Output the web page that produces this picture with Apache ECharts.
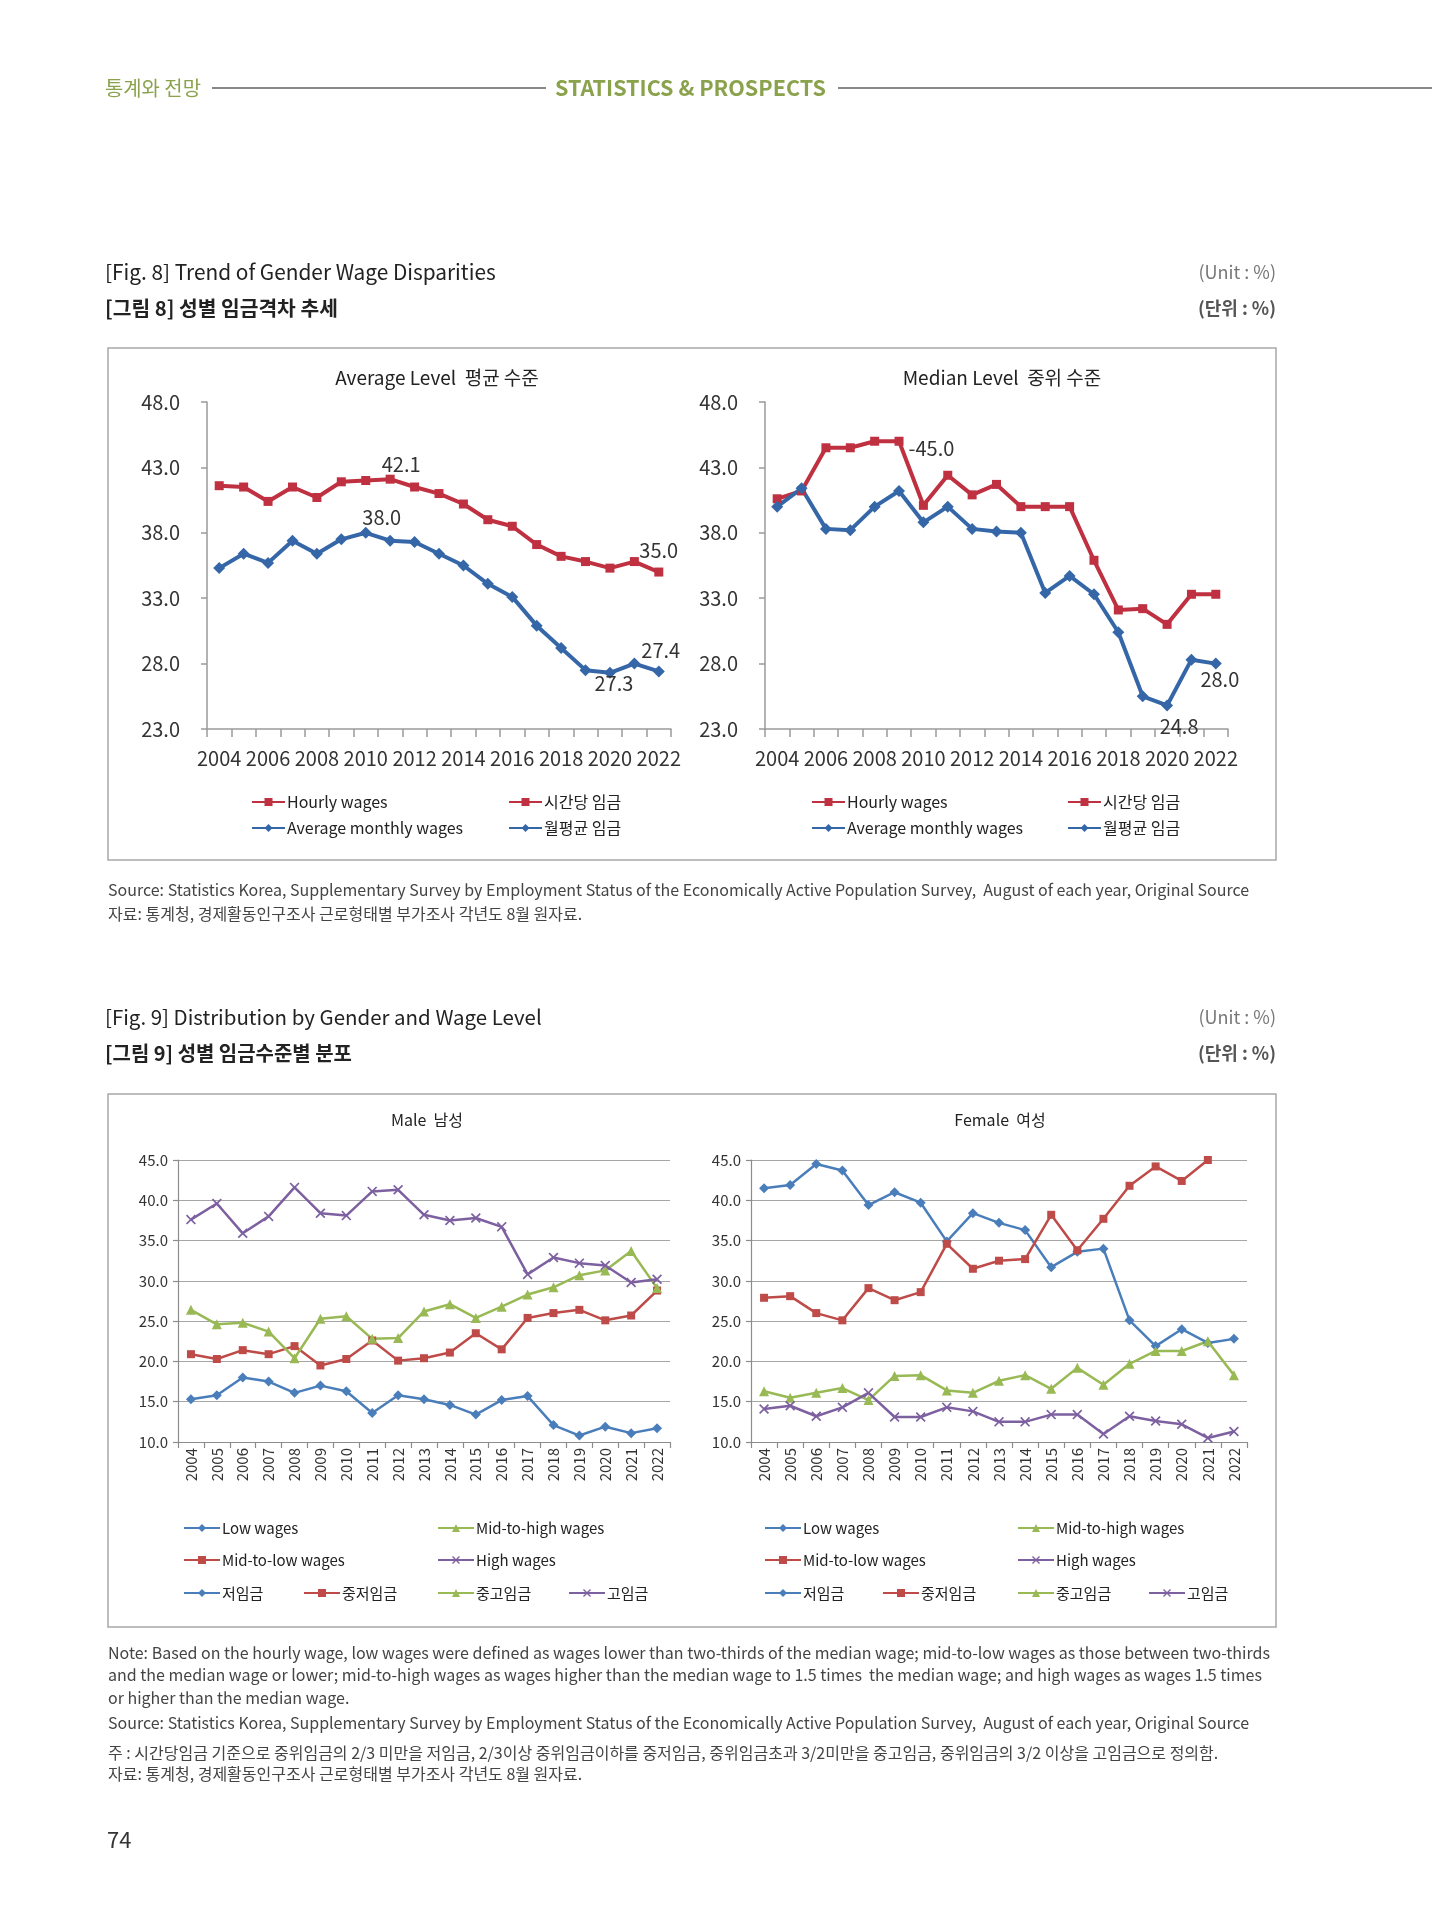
<!DOCTYPE html>
<html><head><meta charset="utf-8">
<script src="https://cdn.jsdelivr.net/npm/echarts@6/dist/echarts.min.js"></script>
<style>html,body{margin:0;padding:0;background:#fff}#c{width:1432px;height:1920px}</style>
</head><body><div id="c"></div>
<script>
// ---------- DATA ----------
const years = ['2004','2005','2006','2007','2008','2009','2010','2011','2012','2013','2014','2015','2016','2017','2018','2019','2020','2021','2022'];
const fig8YTicks = [23, 48, 5];
const fig9YTicks = [10, 45, 5];

// Fig 8 - Average level
const avgHourly  = [41.6,41.5,40.4,41.5,40.7,41.9,42.0,42.1,41.5,41.0,40.2,39.0,38.5,37.1,36.2,35.8,35.3,35.8,35.0];
const avgMonthly = [35.3,36.4,35.7,37.4,36.4,37.5,38.0,37.4,37.3,36.4,35.5,34.1,33.1,30.9,29.2,27.5,27.3,28.0,27.4];
// Fig 8 - Median level
const medHourly  = [40.6,41.2,44.5,44.5,45.0,45.0,40.1,42.4,40.9,41.7,40.0,40.0,40.0,35.9,32.1,32.2,31.0,33.3,33.3];
const medMonthly = [40.0,41.4,38.3,38.2,40.0,41.2,38.8,40.0,38.3,38.1,38.0,33.4,34.7,33.3,30.4,25.5,24.8,28.3,28.0];

// Fig 9 - Male
const maleLow     = [15.3,15.8,18.0,17.5,16.1,17.0,16.3,13.6,15.8,15.3,14.6,13.4,15.2,15.7,12.1,10.8,11.9,11.1,11.7];
const maleMidLow  = [20.9,20.3,21.4,20.9,21.9,19.5,20.3,22.6,20.1,20.4,21.1,23.5,21.5,25.4,26.0,26.4,25.1,25.7,28.8];
const maleMidHigh = [26.4,24.6,24.8,23.7,20.4,25.3,25.6,22.8,22.9,26.2,27.1,25.4,26.8,28.3,29.2,30.7,31.3,33.7,29.1];
const maleHigh    = [37.6,39.6,35.9,38.0,41.6,38.4,38.1,41.1,41.3,38.2,37.5,37.8,36.7,30.8,32.9,32.2,31.9,29.8,30.2];
// Fig 9 - Female
const femaleLow     = [41.5,41.9,44.5,43.7,39.4,41.0,39.7,34.9,38.4,37.2,36.3,31.7,33.6,34.0,25.1,21.9,24.0,22.3,22.8];
const femaleMidLow  = [27.9,28.1,26.0,25.1,29.1,27.6,28.6,34.6,31.5,32.5,32.7,38.2,33.8,37.7,41.8,44.2,42.4,45.0,47.5];
const femaleMidHigh = [16.3,15.5,16.1,16.7,15.2,18.2,18.3,16.4,16.1,17.6,18.3,16.6,19.2,17.1,19.7,21.3,21.3,22.5,18.3];
const femaleHigh    = [14.1,14.5,13.2,14.3,16.1,13.1,13.1,14.3,13.8,12.5,12.5,13.4,13.4,11.0,13.2,12.6,12.2,10.5,11.3];

// Names
const fig8Names = ['Hourly wages','Average monthly wages','시간당 임금','월평균 임금'];
const fig9Names = ['Low wages','Mid-to-low wages','Mid-to-high wages','High wages','저임금','중저임금','중고임금','고임금'];

// Texts
const noteLines = [
 'Note: Based on the hourly wage, low wages were defined as wages lower than two-thirds of the median wage; mid-to-low wages as those between two-thirds',
 'and the median wage or lower; mid-to-high wages as wages higher than the median wage to 1.5 times  the median wage; and high wages as wages 1.5 times',
 'or higher than the median wage.',
 'Source: Statistics Korea, Supplementary Survey by Employment Status of the Economically Active Population Survey,  August of each year, Original Source',
 '주 : 시간당임금 기준으로 중위임금의 2/3 미만을 저임금, 2/3이상 중위임금이하를 중저임금, 중위임금초과 3/2미만을 중고임금, 중위임금의 3/2 이상을 고임금으로 정의함.',
 '자료: 통계청, 경제활동인구조사 근로형태별 부가조사 각년도 8월 원자료.'
];
const src8Lines = [
 'Source: Statistics Korea, Supplementary Survey by Employment Status of the Economically Active Population Survey,  August of each year, Original Source',
 '자료: 통계청, 경제활동인구조사 근로형태별 부가조사 각년도 8월 원자료.'
];
const headerKo = '통계와 전망', headerEn = 'STATISTICS & PROSPECTS';
const fig8Title = '[Fig. 8] Trend of Gender Wage Disparities', fig8TitleKo = '[그림 8] 성별 임금격차 추세';
const fig9Title = '[Fig. 9] Distribution by Gender and Wage Level', fig9TitleKo = '[그림 9] 성별 임금수준별 분포';

// ---------- STYLE ----------
const FF = '"Noto Sans CJK KR","Noto Sans",sans-serif';
const RED8 = '#BF3040', BLUE8 = '#3567A8';
const C9 = {low:'#4A7EBB', midlow:'#BE4B48', midhigh:'#98B954', high:'#7D60A0'};
const XSYM = 'path://M0,1.2 L1.2,0 L5,3.8 L8.8,0 L10,1.2 L6.2,5 L10,8.8 L8.8,10 L5,6.2 L1.2,10 L0,8.8 L3.8,5 Z';

function fit(text, weight, target, max){
  const c = document.createElement('canvas').getContext('2d');
  c.font = weight + ' 100px ' + FF;
  return Math.min(max, 100 * target / c.measureText(text).width);
}
const noteSize = fit(noteLines[0], 'normal', 1168, 16);

const chart = echarts.init(document.getElementById('c'), null, {renderer:'canvas'});

const grids = [
  {left:207, top:402, width:464, height:327},
  {left:765, top:402, width:463, height:327},
  {left:178, top:1160, width:492, height:282},
  {left:751, top:1160, width:496, height:282}
];

function x8(gi){return {type:'category', gridIndex:gi, data:years, boundaryGap:true,
  axisLine:{lineStyle:{color:'#9a9a9a', width:1.5}},
  axisTick:{show:true, interval:0, length:8, lineStyle:{color:'#9a9a9a', width:1.5}},
  axisLabel:{interval:1, fontSize:20, color:'#333', margin:19, fontFamily:FF}};}
function y8(gi){return {type:'value', gridIndex:gi, min:fig8YTicks[0], max:fig8YTicks[1], interval:fig8YTicks[2],
  axisLine:{show:true, lineStyle:{color:'#9a9a9a', width:1.5}},
  axisTick:{show:true, length:6, lineStyle:{color:'#9a9a9a', width:1.5}},
  splitLine:{show:false},
  axisLabel:{formatter:v=>v.toFixed(1), fontSize:20, color:'#333', margin:27, fontFamily:FF}};}
function x9(gi){return {type:'category', gridIndex:gi, data:years, boundaryGap:true,
  axisLine:{lineStyle:{color:'#8c8c8c', width:1.2}},
  axisTick:{show:true, interval:0, length:6, lineStyle:{color:'#8c8c8c', width:1.2}},
  axisLabel:{interval:0, rotate:90, fontSize:15, color:'#333', margin:6, fontFamily:FF}};}
function y9(gi){return {type:'value', gridIndex:gi, min:fig9YTicks[0], max:fig9YTicks[1], interval:fig9YTicks[2],
  axisLine:{show:true, lineStyle:{color:'#8c8c8c', width:1.2}},
  axisTick:{show:true, length:5, lineStyle:{color:'#8c8c8c', width:1.2}},
  splitLine:{show:true, lineStyle:{color:'#a6a6a6', width:1.2}},
  axisLabel:{formatter:v=>v.toFixed(1), fontSize:15, color:'#333', margin:10, fontFamily:FF}};}

function withLabels(data, spec){
  return data.map((v,i)=>{
    if(!spec || !spec[i]) return v;
    const s = spec[i];
    return {value:v, label:{show:true, position:s.pos, offset:s.off||[0,0],
      formatter:p=>(s.prefix||'')+Number(p.value).toFixed(1),
      fontSize:20, color:'#333', fontFamily:FF}};
  });
}
function line(name, data, gi, color, symbol, size, width, spec){
  return {type:'line', name, xAxisIndex:gi, yAxisIndex:gi, data:withLabels(data, spec),
    symbol, symbolSize:size, showSymbol:true, animation:false,
    lineStyle:{color, width}, itemStyle:{color, borderColor:color, borderWidth:0}, z:3};
}

const series = [
  line('Hourly wages', avgHourly, 0, RED8, 'rect', 9, 4, {7:{pos:'top',off:[11,5]}, 18:{pos:'top',off:[0,-2]}}),
  line('Average monthly wages', avgMonthly, 0, BLUE8, 'diamond', 12, 4, {6:{pos:'top',off:[16,6]}, 16:{pos:'bottom',off:[4,-10]}, 18:{pos:'top',off:[2,0]}}),
  line('시간당 임금', [], 0, RED8, 'rect', 9, 4),
  line('월평균 임금', [], 0, BLUE8, 'diamond', 12, 4),
  line('Hourly wages', medHourly, 1, RED8, 'rect', 9, 4, {5:{pos:'right',off:[0,7],prefix:'-'}}),
  line('Average monthly wages', medMonthly, 1, BLUE8, 'diamond', 12, 4, {16:{pos:'bottom',off:[12,0]}, 18:{pos:'bottom',off:[4,-5]}}),
  line('Low wages', maleLow, 2, C9.low, 'diamond', 10, 2.5),
  line('Mid-to-low wages', maleMidLow, 2, C9.midlow, 'rect', 8, 2.5),
  line('Mid-to-high wages', maleMidHigh, 2, C9.midhigh, 'triangle', 10, 2.5),
  line('High wages', maleHigh, 2, C9.high, XSYM, 10, 2.5),
  line('저임금', [], 2, C9.low, 'diamond', 10, 2.5),
  line('중저임금', [], 2, C9.midlow, 'rect', 8, 2.5),
  line('중고임금', [], 2, C9.midhigh, 'triangle', 10, 2.5),
  line('고임금', [], 2, C9.high, XSYM, 10, 2.5),
  line('Low wages', femaleLow, 3, C9.low, 'diamond', 10, 2.5),
  line('Mid-to-low wages', femaleMidLow, 3, C9.midlow, 'rect', 8, 2.5),
  line('Mid-to-high wages', femaleMidHigh, 3, C9.midhigh, 'triangle', 10, 2.5),
  line('High wages', femaleHigh, 3, C9.high, XSYM, 10, 2.5)
];

// Legend layout: [name, iconLeft, rowCenterY, fontSize, iconWidth]
const legendLayout = [
  [fig8Names[0],251,802,16,33],[fig8Names[1],251,828,16,33],[fig8Names[2],508,802,16,33],[fig8Names[3],508,828,16,33],
  [fig8Names[0],811,802,16,33],[fig8Names[1],811,828,16,33],[fig8Names[2],1067,802,16,33],[fig8Names[3],1067,828,16,33],
  [fig9Names[0],183,1528,15,36],[fig9Names[1],183,1560,15,36],[fig9Names[2],437,1528,15,36],[fig9Names[3],437,1560,15,36],
  [fig9Names[4],183,1593,15,36],[fig9Names[5],303,1593,15,36],[fig9Names[6],437,1593,15,36],[fig9Names[7],568,1593,15,36],
  [fig9Names[0],764,1528,15,36],[fig9Names[1],764,1560,15,36],[fig9Names[2],1017,1528,15,36],[fig9Names[3],1017,1560,15,36],
  [fig9Names[4],764,1593,15,36],[fig9Names[5],882,1593,15,36],[fig9Names[6],1017,1593,15,36],[fig9Names[7],1148,1593,15,36]
];
const legends = legendLayout.map(([n,x,y,fs,iw])=>({
  data:[n], left:x, top:y-9, padding:0, itemGap:0, itemWidth:iw, itemHeight:10, selectedMode:false,
  textStyle:{fontSize:fs, color:'#222', fontFamily:FF, lineHeight:18, padding:[0,0,0,-3]}
}));

function txt(x,y,text,opt){
  opt = opt||{};
  return {type:'text', x, y, silent:true, style:{text, fill:opt.color||'#222', align:opt.align||'left', verticalAlign:'middle',
    font:(opt.weight||'normal')+' '+(opt.size||16)+'px '+FF}};
}
const GREEN = '#8BA24C';
const graphics = [
  txt(105,88,headerKo,{color:GREEN,size:fit(headerKo,'normal',96,20)}),
  {type:'line', shape:{x1:212,y1:88,x2:546,y2:88}, style:{stroke:'#888',lineWidth:2}},
  txt(555,88,headerEn,{color:GREEN,size:fit(headerEn,'bold',271,22),weight:'bold'}),
  {type:'line', shape:{x1:838,y1:88,x2:1432,y2:88}, style:{stroke:'#888',lineWidth:2}},

  txt(105,272,fig8Title,{size:fit(fig8Title,'normal',391,21)}),
  txt(105,308,fig8TitleKo,{size:fit(fig8TitleKo,'bold',233,21),weight:'bold'}),
  txt(1276,272,'(Unit : %)',{size:18,color:'#777',align:'right'}),
  txt(1276,308,'(단위 : %)',{size:18,color:'#555',weight:'bold',align:'right'}),
  {type:'rect', shape:{x:108,y:348,width:1168,height:512}, style:{fill:'none',stroke:'#a8a8a8',lineWidth:1.5}},
  txt(437,378,'Average Level  평균 수준',{size:19,align:'center'}),
  txt(1002,378,'Median Level  중위 수준',{size:19,align:'center'}),
  txt(108,890,src8Lines[0],{size:noteSize,color:'#444'}),
  txt(108,914,src8Lines[1],{size:noteSize,color:'#444'}),

  txt(105,1017,fig9Title,{size:fit(fig9Title,'normal',437,21)}),
  txt(105,1053,fig9TitleKo,{size:fit(fig9TitleKo,'bold',247,21),weight:'bold'}),
  txt(1276,1017,'(Unit : %)',{size:18,color:'#777',align:'right'}),
  txt(1276,1053,'(단위 : %)',{size:18,color:'#555',weight:'bold',align:'right'}),
  {type:'rect', shape:{x:108,y:1094,width:1168,height:533}, style:{fill:'none',stroke:'#a8a8a8',lineWidth:1.5}},
  txt(427,1120,'Male  남성',{size:16,align:'center'}),
  txt(1000,1120,'Female  여성',{size:16,align:'center'}),

  txt(108,1653,noteLines[0],{size:noteSize,color:'#444'}),
  txt(108,1675,noteLines[1],{size:noteSize,color:'#444'}),
  txt(108,1698,noteLines[2],{size:noteSize,color:'#444'}),
  txt(108,1723,noteLines[3],{size:noteSize,color:'#444'}),
  txt(108,1753,noteLines[4],{size:noteSize,color:'#444'}),
  txt(108,1774,noteLines[5],{size:noteSize,color:'#444'}),
  txt(107,1840,'74',{size:22,color:'#333'})
];

chart.setOption({
  animation:false,
  backgroundColor:'#fff',
  grid:grids,
  xAxis:[x8(0),x8(1),x9(2),x9(3)],
  yAxis:[y8(0),y8(1),y9(2),y9(3)],
  legend:legends,
  series,
  graphic:graphics
});
</script></body></html>
